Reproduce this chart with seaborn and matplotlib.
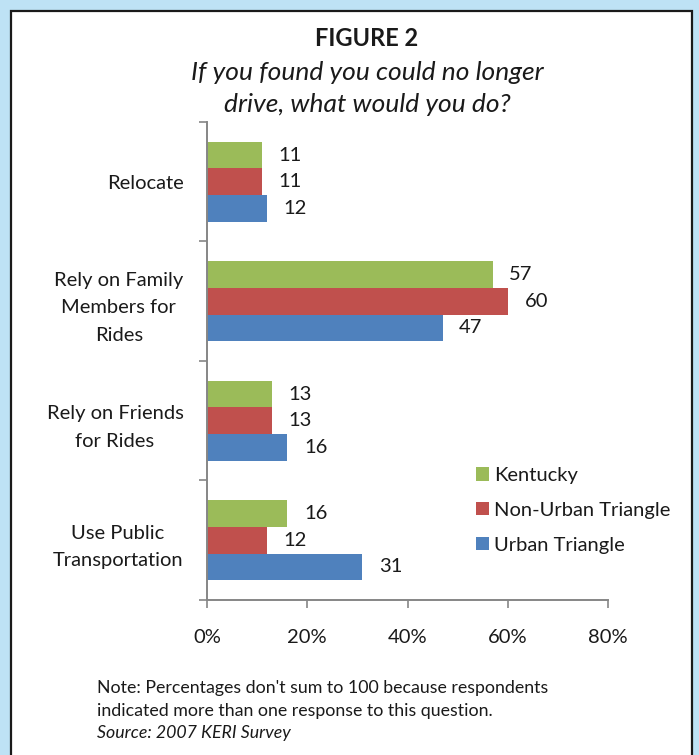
import matplotlib
matplotlib.use("Agg")
import matplotlib.pyplot as plt
import matplotlib.patches as mpatches
import seaborn as sns
import pandas as pd
import numpy as np

categories = ["Relocate", "Rely on Family\nMembers for\nRides", "Rely on Friends\nfor Rides", "Use Public\nTransportation"]
series = ["Kentucky", "Non-Urban Triangle", "Urban Triangle"]
kentucky = [11, 57, 13, 16]
non_urban = [11, 60, 13, 12]
urban = [12, 47, 16, 31]
colors = ["#9BBB59", "#C0504D", "#4F81BD"]
x_ticks = [0, 20, 40, 60, 80]
x_tick_labels = ["0%", "20%", "40%", "60%", "80%"]

rows = []
for s, vals in zip(series, [kentucky, non_urban, urban]):
    for c, v in zip(categories, vals):
        rows.append({"Category": c, "Series": s, "Value": v})
df = pd.DataFrame(rows)

sns.set_theme(style="white")
plt.rcParams["font.family"] = ["Lato", "DejaVu Sans"]

W, H = 699, 755
fig = plt.figure(figsize=(W / 100, H / 100), dpi=100)
fig.patch.set_facecolor("#BEE2F5")
panel = mpatches.Rectangle((10.5 / W, -0.02), (692 - 10.5) / W, (H - 10.5) / H + 0.02,
                           transform=fig.transFigure, facecolor="white",
                           edgecolor="#1a1a1a", linewidth=1.6, zorder=-10)
fig.patches.append(panel)

ax = fig.add_axes([207 / W, 1 - 600 / H, (608 - 207) / W, (600 - 122) / H])
ax.set_zorder(5)
ax.set_facecolor("none")
sns.barplot(data=df, y="Category", x="Value", hue="Series", order=categories,
            hue_order=series, palette=colors, orient="h", width=0.667,
            saturation=1, ax=ax, legend=True, edgecolor="none")

for cont in ax.containers:
    ax.bar_label(cont, labels=[f"{int(v)}" for v in cont.datavalues], padding=12,
                 fontsize=14.5, color="#1a1a1a")

ax.set_xlim(0, 80)
ax.set_ylim(3.5, -0.5)
ax.set_xticks(x_ticks)
ax.set_xticklabels(x_tick_labels, fontsize=14.5, color="#1a1a1a")
ax.tick_params(axis="x", direction="out", length=6, width=1.2, color="#868686", pad=15,
               bottom=True)
ax.set_yticks([-0.5, 0.5, 1.5, 2.5, 3.5])
ax.set_yticklabels([])
ax.tick_params(axis="y", which="major", direction="out", length=6, width=1.2, color="#868686", left=True)
ax.set_yticks(range(len(categories)), minor=True)
ax.set_yticklabels(categories, minor=True, fontsize=14.5, color="#1a1a1a",
                   multialignment="center", linespacing=1.75)
ax.tick_params(axis="y", which="minor", length=0, pad=17)
ax.set_xlabel("")
ax.set_ylabel("")
for s in ["top", "right"]:
    ax.spines[s].set_visible(False)
for s in ["left", "bottom"]:
    ax.spines[s].set_color("#868686")
    ax.spines[s].set_linewidth(1.4)

leg = ax.get_legend()
handles, labels = ax.get_legend_handles_labels()
leg.remove()
fig.legend(handles, labels, loc="upper left", bbox_to_anchor=(458 / W, 1 - 449 / H),
           frameon=False, fontsize=14.5, handlelength=0.65, handleheight=0.65,
           handletextpad=0.25, labelspacing=0.88, labelcolor="#1a1a1a")

fig.text(367 / W, 1 - 38 / H, "FIGURE 2", ha="center", va="center", fontsize=17,
         fontweight="bold", color="#1a1a1a")
fig.text(367 / W, 1 - 73 / H, "If you found you could no longer", ha="center", va="center",
         fontsize=19, style="italic", color="#1a1a1a")
fig.text(367 / W, 1 - 104 / H, "drive, what would you do?", ha="center", va="center",
         fontsize=19, style="italic", color="#1a1a1a")

fig.text(97 / W, 1 - 688 / H, "Note: Percentages don't sum to 100 because respondents",
         ha="left", va="center", fontsize=12.8, color="#1a1a1a")
fig.text(97 / W, 1 - 711 / H, "indicated more than one response to this question.",
         ha="left", va="center", fontsize=12.8, color="#1a1a1a")
fig.text(97 / W, 1 - 733 / H, "Source: 2007 KERI Survey",
         ha="left", va="center", fontsize=12.8, style="italic", color="#1a1a1a")

fig.savefig("out.png", dpi=100, facecolor=fig.get_facecolor())
